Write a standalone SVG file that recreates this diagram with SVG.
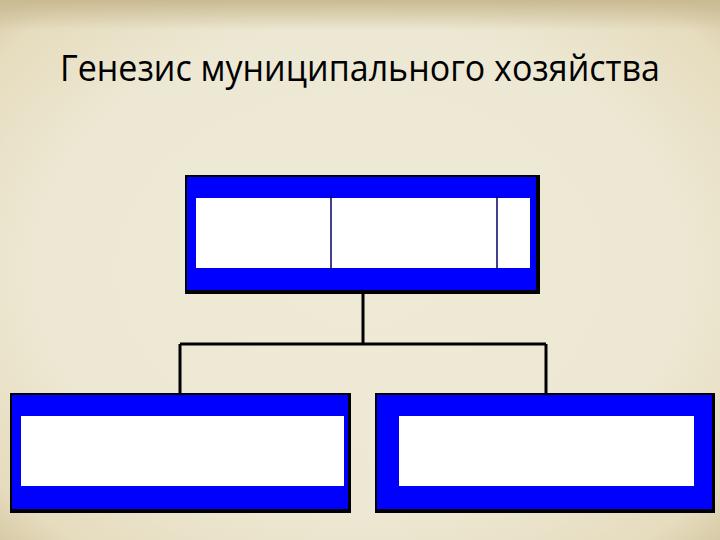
<svg xmlns="http://www.w3.org/2000/svg" width="720" height="540" viewBox="0 0 720 540">
<defs>
<radialGradient id="bg" cx="50%" cy="50%" r="75%">
<stop offset="0" stop-color="#EEEAD6"/>
<stop offset="0.6" stop-color="#EDE8D3"/>
<stop offset="0.85" stop-color="#E6DCBE"/>
<stop offset="1" stop-color="#CDBF98"/>
</radialGradient>
<linearGradient id="top" x1="0" y1="0" x2="0" y2="1">
<stop offset="0" stop-color="#C9BA92"/>
<stop offset="1" stop-color="#C9BA92" stop-opacity="0"/>
</linearGradient>
<style>
.frame{fill:#000000}
.blue{fill:#0000FF}
.inner{fill:#FFFFFF}
.conn{stroke:#000000;stroke-width:3;fill:none}
.div{stroke:#000066;stroke-width:1.5}
.title{font-family:"Open Sans","Noto Sans","DejaVu Sans",sans-serif;font-size:36px;fill:#000000}
</style>
</defs>
<rect x="0" y="0" width="720" height="540" fill="url(#bg)"/>
<rect x="0" y="0" width="720" height="30" fill="url(#top)"/>
<text class="title" x="60" y="81" textLength="600" lengthAdjust="spacingAndGlyphs">Генезис муниципального хозяйства</text>
<g id="connectors">
<path class="conn" d="M363 293 V344"/>
<path class="conn" d="M180 344 H546"/>
<path class="conn" d="M180 344 V394"/>
<path class="conn" d="M546 344 V394"/>
</g>
<g id="node-top">
<rect class="frame" x="185" y="175" width="355" height="119"/>
<rect class="blue" x="187" y="177" width="349" height="113"/>
<rect class="inner" x="196" y="198" width="334" height="70"/>
<line class="div" x1="331" y1="196" x2="331" y2="269"/>
<line class="div" x1="497" y1="196" x2="497" y2="269"/>
</g>
<g id="node-left">
<rect class="frame" x="10" y="393" width="341" height="120"/>
<rect class="blue" x="12" y="395" width="336" height="114"/>
<rect class="inner" x="21" y="416" width="323" height="70"/>
</g>
<g id="node-right">
<rect class="frame" x="375" y="393" width="340" height="120"/>
<rect class="blue" x="377" y="395" width="335" height="114"/>
<rect class="inner" x="399" y="416" width="295" height="70"/>
</g>
</svg>
